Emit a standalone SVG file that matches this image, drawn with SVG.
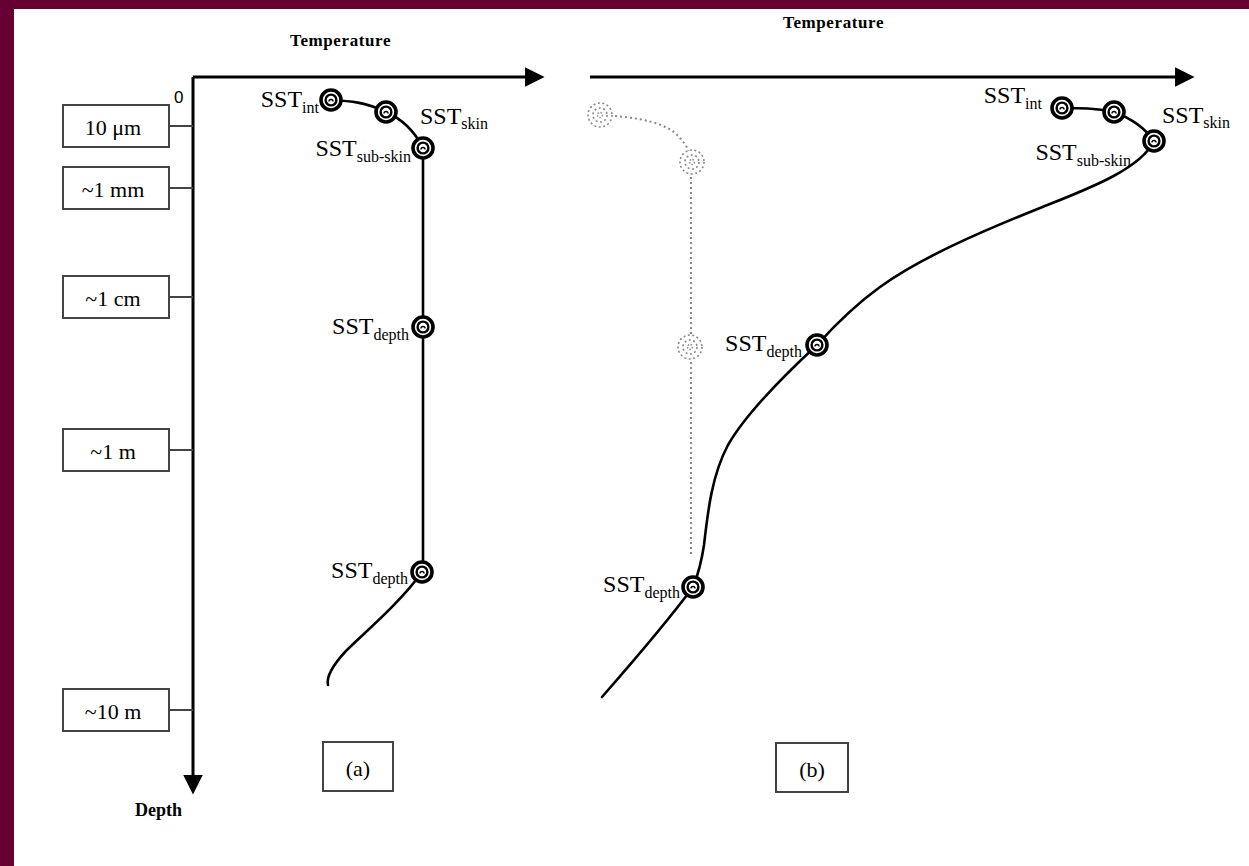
<svg xmlns="http://www.w3.org/2000/svg" xmlns:xlink="http://www.w3.org/1999/xlink" width="1249" height="866" viewBox="0 0 1249 866">
<style>
.serif{font-family:"Liberation Serif","Times New Roman",serif;fill:#000}
.lbl{font-size:24px}
.sub{font-size:16px}
.box{fill:#fff;stroke:#444;stroke-width:2}
.tick{stroke:#444;stroke-width:2}
.axis{stroke:#000;stroke-width:3;fill:none}
.curve{stroke:#000;stroke-width:2.6;fill:none;stroke-linecap:round}
.dots{stroke:#888;stroke-width:2;fill:none;stroke-dasharray:2 3}
.title{font-size:17px;font-weight:bold;letter-spacing:0.6px}
</style>
<defs>
<marker id="arr" viewBox="0 0 10 10" refX="1" refY="5" markerWidth="7.5" markerHeight="6.5" orient="auto" markerUnits="strokeWidth">
<path d="M0,0 L10,5 L0,10 Z" fill="#000"/>
</marker>
<g id="mk">
<circle r="10" fill="#fff" stroke="#000" stroke-width="3.6"/>
<circle r="5.4" fill="#fff" stroke="#000" stroke-width="2.4"/>
<path d="M-2,1.5 a2,2 0 0 1 4,0" stroke="#000" fill="none" stroke-width="1.4"/>
</g>
<g id="dmk">
<circle r="12" fill="#fff" stroke="#888" stroke-width="1.6" stroke-dasharray="2 2.5"/>
<circle r="7" fill="none" stroke="#888" stroke-width="1.6" stroke-dasharray="2 2.5"/>
<circle r="2.5" fill="none" stroke="#888" stroke-width="1.4" stroke-dasharray="1.5 1.5"/>
</g>
</defs>
<rect x="0" y="0" width="1249" height="866" fill="#660033"/>
<rect x="14" y="9" width="1235" height="857" fill="#fff"/>

<g id="axes">
<path class="axis" d="M193,77 H527" marker-end="url(#arr)"/>
<path class="axis" d="M193,77 V777" marker-end="url(#arr)"/>
<path class="axis" d="M590,77 H1177" marker-end="url(#arr)"/>
<text class="serif title" x="290" y="46">Temperature</text>
<text class="serif title" x="783" y="28">Temperature</text>
<text class="serif" x="135" y="816" font-size="18" font-weight="bold">Depth</text>
<text x="174" y="103" font-family="Liberation Sans, Arial, sans-serif" font-size="17">0</text>
</g>

<g id="scale-10um"><line class="tick" x1="169" y1="126" x2="193" y2="126"/><rect class="box" x="63" y="105" width="106" height="42"/><text class="serif" x="113" y="135" font-size="22" text-anchor="middle">10 μm</text></g>
<g id="scale-1mm"><line class="tick" x1="169" y1="188" x2="193" y2="188"/><rect class="box" x="63" y="167" width="106" height="42"/><text class="serif" x="113" y="197" font-size="22" text-anchor="middle">~1 mm</text></g>
<g id="scale-1cm"><line class="tick" x1="169" y1="297" x2="193" y2="297"/><rect class="box" x="63" y="276" width="106" height="42"/><text class="serif" x="113" y="306" font-size="22" text-anchor="middle">~1 cm</text></g>
<g id="scale-1m"><line class="tick" x1="169" y1="450" x2="193" y2="450"/><rect class="box" x="63" y="429" width="106" height="42"/><text class="serif" x="113" y="459" font-size="22" text-anchor="middle">~1 m</text></g>
<g id="scale-10m"><line class="tick" x1="169" y1="710" x2="193" y2="710"/><rect class="box" x="63" y="689" width="106" height="42"/><text class="serif" x="113" y="719" font-size="22" text-anchor="middle">~10 m</text></g>

<g id="connectors">
<path class="curve" d="M331,100 C350,101 365,102 386,112"/>
<path class="curve" d="M386,112 C402,119 414,130 423,148"/>
<path class="curve" d="M423,148 V572"/>
<path class="curve" d="M422,572 C400,603 365,632 345,652 C334,664 326,676 328,685"/>
<path class="curve" d="M1062,108 C1080,108 1095,108 1114,112"/>
<path class="curve" d="M1114,112 C1130,118 1145,128 1154,141"/>
<path class="curve" d="M1154,141 C1140,170 1085,190 1040,208 C980,232 920,258 880,287 C855,305 835,325 817,345"/>
<path class="curve" d="M817,345 C790,370 748,410 728,445 C712,475 708,510 704,545 C701,565 698,575 693,587"/>
<path class="curve" d="M693,587 C665,625 630,665 602,697"/>
<path class="dots" d="M600,115 C640,117 668,123 680,138 C687,146 690,152 692,162"/>
<path class="dots" d="M691,162 V557"/>
</g>

<g id="a-int"><use xlink:href="#mk" x="331" y="100"/><text class="serif lbl" x="319" y="107" text-anchor="end">SST<tspan class="sub" dy="6">int</tspan></text></g>
<g id="a-skin"><use xlink:href="#mk" x="386" y="112"/><text class="serif lbl" x="420" y="124">SST<tspan class="sub" dy="5">skin</tspan></text></g>
<g id="a-subskin"><use xlink:href="#mk" x="423" y="148"/><text class="serif lbl" x="411" y="156" text-anchor="end">SST<tspan class="sub" dy="6">sub-skin</tspan></text></g>
<g id="a-depth1"><use xlink:href="#mk" x="423" y="327"/><text class="serif lbl" x="409" y="334" text-anchor="end">SST<tspan class="sub" dy="6">depth</tspan></text></g>
<g id="a-depth2"><use xlink:href="#mk" x="422" y="572"/><text class="serif lbl" x="408" y="578" text-anchor="end">SST<tspan class="sub" dy="6">depth</tspan></text></g>
<g id="a-label"><rect class="box" x="323" y="742" width="70" height="49"/><text class="serif" x="358" y="776" font-size="22" text-anchor="middle">(a)</text></g>

<g id="b-ref-top"><use xlink:href="#dmk" x="600" y="115"/></g>
<g id="b-ref-sub"><use xlink:href="#dmk" x="692" y="162"/></g>
<g id="b-ref-depth"><use xlink:href="#dmk" x="690" y="347"/></g>
<g id="b-int"><use xlink:href="#mk" x="1062" y="108"/><text class="serif lbl" x="1042" y="103" text-anchor="end">SST<tspan class="sub" dy="6">int</tspan></text></g>
<g id="b-skin"><use xlink:href="#mk" x="1114" y="112"/><text class="serif lbl" x="1162" y="123">SST<tspan class="sub" dy="5">skin</tspan></text></g>
<g id="b-subskin"><use xlink:href="#mk" x="1154" y="141"/><text class="serif lbl" x="1131" y="160" text-anchor="end">SST<tspan class="sub" dy="6">sub-skin</tspan></text></g>
<g id="b-depth1"><use xlink:href="#mk" x="817" y="345"/><text class="serif lbl" x="802" y="351" text-anchor="end">SST<tspan class="sub" dy="6">depth</tspan></text></g>
<g id="b-depth2"><use xlink:href="#mk" x="693" y="587"/><text class="serif lbl" x="680" y="592" text-anchor="end">SST<tspan class="sub" dy="6">depth</tspan></text></g>
<g id="b-label"><rect class="box" x="776" y="743" width="72" height="49"/><text class="serif" x="812" y="777" font-size="22" text-anchor="middle">(b)</text></g>
</svg>
